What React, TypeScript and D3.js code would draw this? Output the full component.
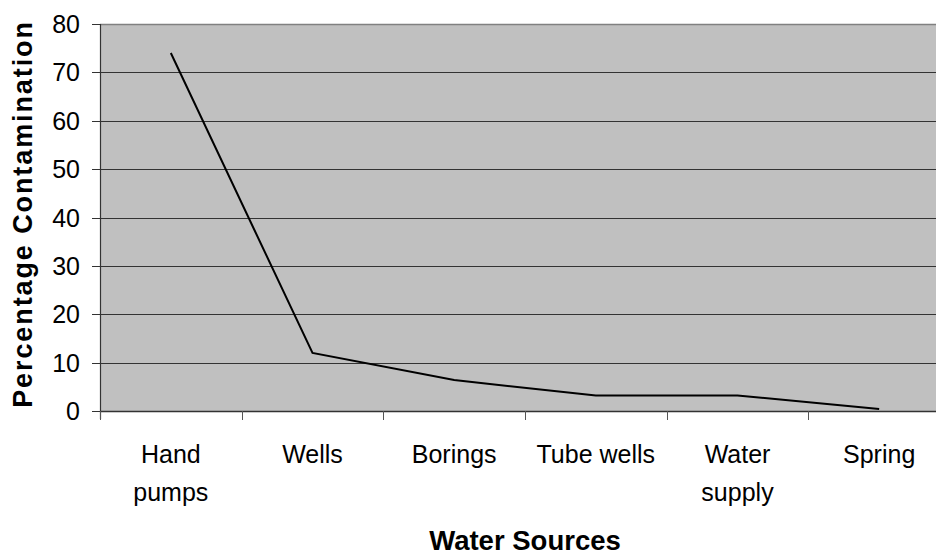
import React from "react";
import * as d3 from "d3";

const categories = ["Hand pumps", "Wells", "Borings", "Tube wells", "Water supply", "Spring"];
const labelLines = [["Hand", "pumps"], ["Wells"], ["Borings"], ["Tube wells"], ["Water", "supply"], ["Spring"]];
const values = [74, 12, 6.4, 3.2, 3.2, 0.4];
const yTicks = [0, 10, 20, 30, 40, 50, 60, 70, 80];

const W = 936, H = 556;
const left = 100, right = 950, top = 24, bottom = 411;
const font = "Liberation Sans, Arial, sans-serif";

export default function App() {
  const x = d3.scaleBand<string>().domain(categories).range([left, right]).padding(0);
  const y = d3.scaleLinear().domain([0, 80]).range([bottom, top]);
  const line = d3.line<number>()
    .x((_, i) => (x(categories[i]) as number) + x.bandwidth() / 2)
    .y((d) => y(d));
  const tickXs = categories.map((c) => x(c) as number);

  return (
    <svg width={W} height={H} style={{ position: "absolute", left: 0, top: 0 }}>
      <rect x={left} y={top} width={right - left} height={bottom - top} fill="#c0c0c0" />
      <line x1={left} x2={W} y1={top + 0.5} y2={top + 0.5} stroke="#808080" strokeWidth={1.5} />
      {yTicks.filter((t) => t > 0 && t < 80).map((t) => (
        <line key={t} x1={left} x2={W} y1={Math.round(y(t)) + 0.5} y2={Math.round(y(t)) + 0.5} stroke="#333" strokeWidth={1} />
      ))}
      <line x1={left + 0.5} x2={left + 0.5} y1={top} y2={bottom + 8} stroke="#333" strokeWidth={1.2} />
      {yTicks.map((t) => (
        <g key={t}>
          <line x1={left - 8} x2={left} y1={Math.round(y(t)) + 0.5} y2={Math.round(y(t)) + 0.5} stroke="#333" />
          <text x={80} y={y(t)} textAnchor="end" dominantBaseline="central" fontFamily={font} fontSize={25} fill="#000">{t}</text>
        </g>
      ))}
      <line x1={left} x2={W} y1={bottom + 0.5} y2={bottom + 0.5} stroke="#333" strokeWidth={1.5} />
      {tickXs.map((tx, i) => (
        <line key={i} x1={Math.round(tx) + 0.5} x2={Math.round(tx) + 0.5} y1={bottom} y2={bottom + 9} stroke="#555" />
      ))}
      {labelLines.map((lines, i) => (
        <text key={i} textAnchor="middle" fontFamily={font} fontSize={25} fill="#000">
          {lines.map((l, j) => (
            <tspan key={j} x={(x(categories[i]) as number) + x.bandwidth() / 2} y={463 + j * 38}>{l}</tspan>
          ))}
        </text>
      ))}
      <path d={line(values) || ""} fill="none" stroke="#000" strokeWidth={2} />
      <text x={525} y={550} textAnchor="middle" fontFamily={font} fontWeight="bold" fontSize={27.5} fill="#000">Water Sources</text>
      <text transform={`translate(32,214) rotate(-90)`} textAnchor="middle" fontFamily={font} fontWeight="bold" fontSize={27} letterSpacing={1.9} fill="#000">Percentage Contamination</text>
    </svg>
  );
}
